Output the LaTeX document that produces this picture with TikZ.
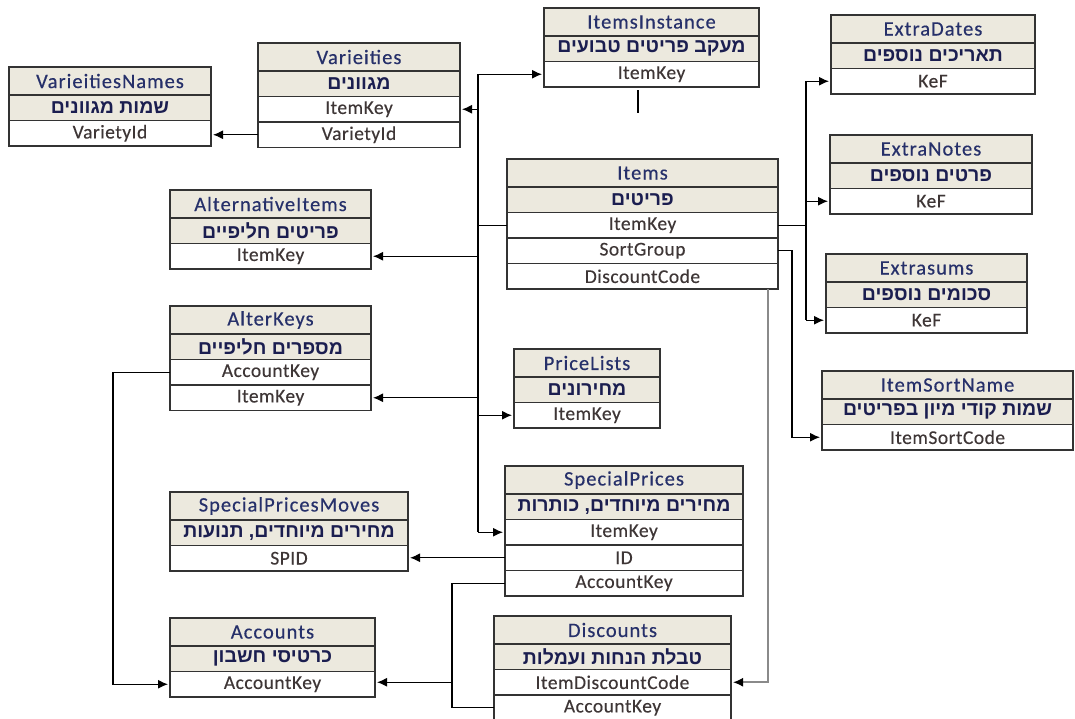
\documentclass[tikz,border=0pt]{standalone}
\usepackage{fontspec}
\setmainfont{Carlito}
\newfontfamily\ttlfont[LetterSpace=5,FakeBold=0.4]{Carlito}
\newfontfamily\fldfont[LetterSpace=2.5,FakeBold=0.25]{Carlito}
\newfontfamily\hebfont[Script=Hebrew]{Liberation Sans}
\TeXXeTstate=1
\usetikzlibrary{arrows.meta,calc}
\definecolor{hdr}{HTML}{ECE9DE}
\definecolor{ttl}{HTML}{26306A}
\definecolor{heb}{HTML}{1B1E50}
\definecolor{fld}{HTML}{3E3636}
\definecolor{brd}{HTML}{333333}
\definecolor{gline}{HTML}{8A8A8A}
\tikzset{
  cell/.style={draw=brd, line width=1.6pt, inner sep=0pt, outer sep=0pt, anchor=north west, minimum height=25.5pt},
  titlecell/.style={cell, fill=hdr, minimum height=28pt, text=ttl, font=\ttlfont\fontsize{20.5}{22}\selectfont},
  hebcell/.style={cell, fill=hdr, text=heb, font=\hebfont\bfseries\fontsize{19.5}{21}\selectfont},
  fieldcell/.style={cell, fill=white, text=fld, font=\fldfont\fontsize{19.5}{21}\selectfont},
  conn/.style={line width=1.3pt, black},
  arr/.style={conn, -{Latex[length=10pt,width=9pt]}, shorten >=2pt},
  grayarr/.style={line width=1.6pt, gline, -{Latex[length=10pt,width=9pt,color=black]}, shorten >=2pt},
  stubline/.style={line width=2.6pt, black},
}
\newcommand\dbt[6]{%
  \node[titlecell, minimum width=#4] (#1) at (#2,#3) {#5};
  \node[hebcell, minimum width=#4] (#1-h) at (#1.south west) {#6};
}
\newcommand\dbf[4]{%
  \node[fieldcell, minimum width=#3] (#1) at (#2.south west) {#4};
}
\begin{document}
\begin{tikzpicture}[x=1pt,y=-1pt]
\useasboundingbox (0,0) rectangle (1075,718);
\fill[white] (0,0) rectangle (1075,718);
\clip (0,0) rectangle (1075,718);

% tables
\dbt{vn}{9}{67}{202}{VarieitiesNames}{\beginR שמות מגוונים\endR}
\dbf{vn-f1}{vn-h}{202}{VarietyId}

\dbt{var}{258}{43}{202}{Varieities}{\beginR מגוונים\endR}
\dbf{var-f1}{var-h}{202}{ItemKey}
\dbf{var-f2}{var-f1}{202}{VarietyId}

\dbt{ii}{544}{8}{215}{ItemsInstance}{\beginR מעקב פריטים טבועים\endR}
\dbf{ii-f1}{ii-h}{215}{ItemKey}

\dbt{ed}{831}{15}{204}{ExtraDates}{\beginR תאריכים נוספים\endR}
\dbf{ed-f1}{ed-h}{204}{KeF}

\dbt{en}{830}{135}{202}{ExtraNotes}{\beginR פרטים נוספים\endR}
\dbf{en-f1}{en-h}{202}{KeF}

\dbt{es}{826}{254}{201}{Extrasums}{\beginR סכומים נוספים\endR}
\dbf{es-f1}{es-h}{201}{KeF}

\dbt{isn}{822}{371}{251}{ItemSortName}{\beginR שמות קודי מיון בפריטים\endR}
\dbf{isn-f1}{isn-h}{251}{ItemSortCode}

\dbt{it}{507}{159}{271}{Items}{\beginR פריטים\endR}
\dbf{it-f1}{it-h}{271}{ItemKey}
\dbf{it-f2}{it-f1}{271}{SortGroup}
\dbf{it-f3}{it-f2}{271}{DiscountCode}

\dbt{ai}{170}{190}{201}{AlternativeItems}{\beginR פריטים חליפיים\endR}
\dbf{ai-f1}{ai-h}{201}{ItemKey}

\dbt{ak}{170}{306}{201}{AlterKeys}{\beginR מספרים חליפיים\endR}
\dbf{ak-f1}{ak-h}{201}{AccountKey}
\dbf{ak-f2}{ak-f1}{201}{ItemKey}

\dbt{pl}{514}{349}{146}{PriceLists}{\beginR מחירונים\endR}
\dbf{pl-f1}{pl-h}{146}{ItemKey}

\dbt{sp}{505}{466}{238}{SpecialPrices}{\beginR מחירים מיוחדים, כותרות\endR}
\dbf{sp-f1}{sp-h}{238}{ItemKey}
\dbf{sp-f2}{sp-f1}{238}{ID}
\dbf{sp-f3}{sp-f2}{238}{AccountKey}

\dbt{spm}{170}{492}{238}{SpecialPricesMoves}{\beginR מחירים מיוחדים, תנועות\endR}
\dbf{spm-f1}{spm-h}{238}{SPID}

\dbt{acc}{170}{618}{205}{Accounts}{\beginR כרטיסי חשבון\endR}
\dbf{acc-f1}{acc-h}{205}{AccountKey}

\dbt{dis}{494}{616}{237}{Discounts}{\beginR טבלת הנחות ועמלות\endR}
\dbf{dis-f1}{dis-h}{237}{ItemDiscountCode}
\dbf{dis-f2}{dis-f1}{237}{AccountKey}

% helper x positions
\coordinate (bus) at (478,0);
\coordinate (rb) at (806,0);
\coordinate (sgx) at (792,0);
\coordinate (dcx) at (768,0);
\coordinate (akx) at (452,0);
\coordinate (alx) at (113,0);
\coordinate (stubT) at (638,90);
\coordinate (stubB) at (638,113);

% Varieities -> VarieitiesNames
\draw[arr] (var-f2.west) -- (var-f2.west -| vn-f1.east);

% left bus from Items.ItemKey
\draw[conn] (it-f1.west) -- (bus |- it-f1.west);
\draw[conn] (bus |- ii-f1.west) -- (bus |- sp-f1.west);
\draw[arr] (bus |- ii-f1.west) -- (ii-f1.west);
\draw[arr] (bus |- var-f1.east) -- (var-f1.east);
\draw[arr] (bus |- ai-f1.east) -- (ai-f1.east);
\draw[arr] (bus |- ak-f2.east) -- (ak-f2.east);
\draw[arr] (bus |- pl-f1.west) -- (pl-f1.west);
\draw[arr] (bus |- sp-f1.west) -- (sp-f1.west);

% stub under ItemsInstance
\draw[stubline] (stubT) -- (stubB);

% right bus from Items.ItemKey
\draw[conn] (it-f1.east) -- (rb |- it-f1.east);
\draw[conn] (rb |- ed-f1.west) -- (rb |- es-f1.west);
\draw[arr] (rb |- ed-f1.west) -- (ed-f1.west);
\draw[arr] (rb |- en-f1.west) -- (en-f1.west);
\draw[arr] (rb |- es-f1.west) -- (es-f1.west);

% SortGroup -> ItemSortName
\draw[arr] (it-f2.east) -- (sgx |- it-f2.east) |- (isn-f1.west);

% DiscountCode -> Discounts
\draw[grayarr] (dcx |- it-f3.south) -- (dcx |- dis-f1.east) -- (dis-f1.east);

% SpecialPrices.ID -> SpecialPricesMoves
\draw[arr] (sp-f2.west) -- (sp-f2.west -| spm-f1.east);

% SpecialPrices.AccountKey -> Discounts / Accounts
\draw[conn] (sp-f3.west) -- (akx |- sp-f3.west) |- (dis-f2.west);
\draw[arr] (akx |- dis-f1.west) -- (dis-f1.west -| acc-f1.east);

% AlterKeys.AccountKey -> Accounts
\draw[arr] (ak-f1.west) -- (alx |- ak-f1.west) |- (acc-f1.west);
\end{tikzpicture}
\end{document}
